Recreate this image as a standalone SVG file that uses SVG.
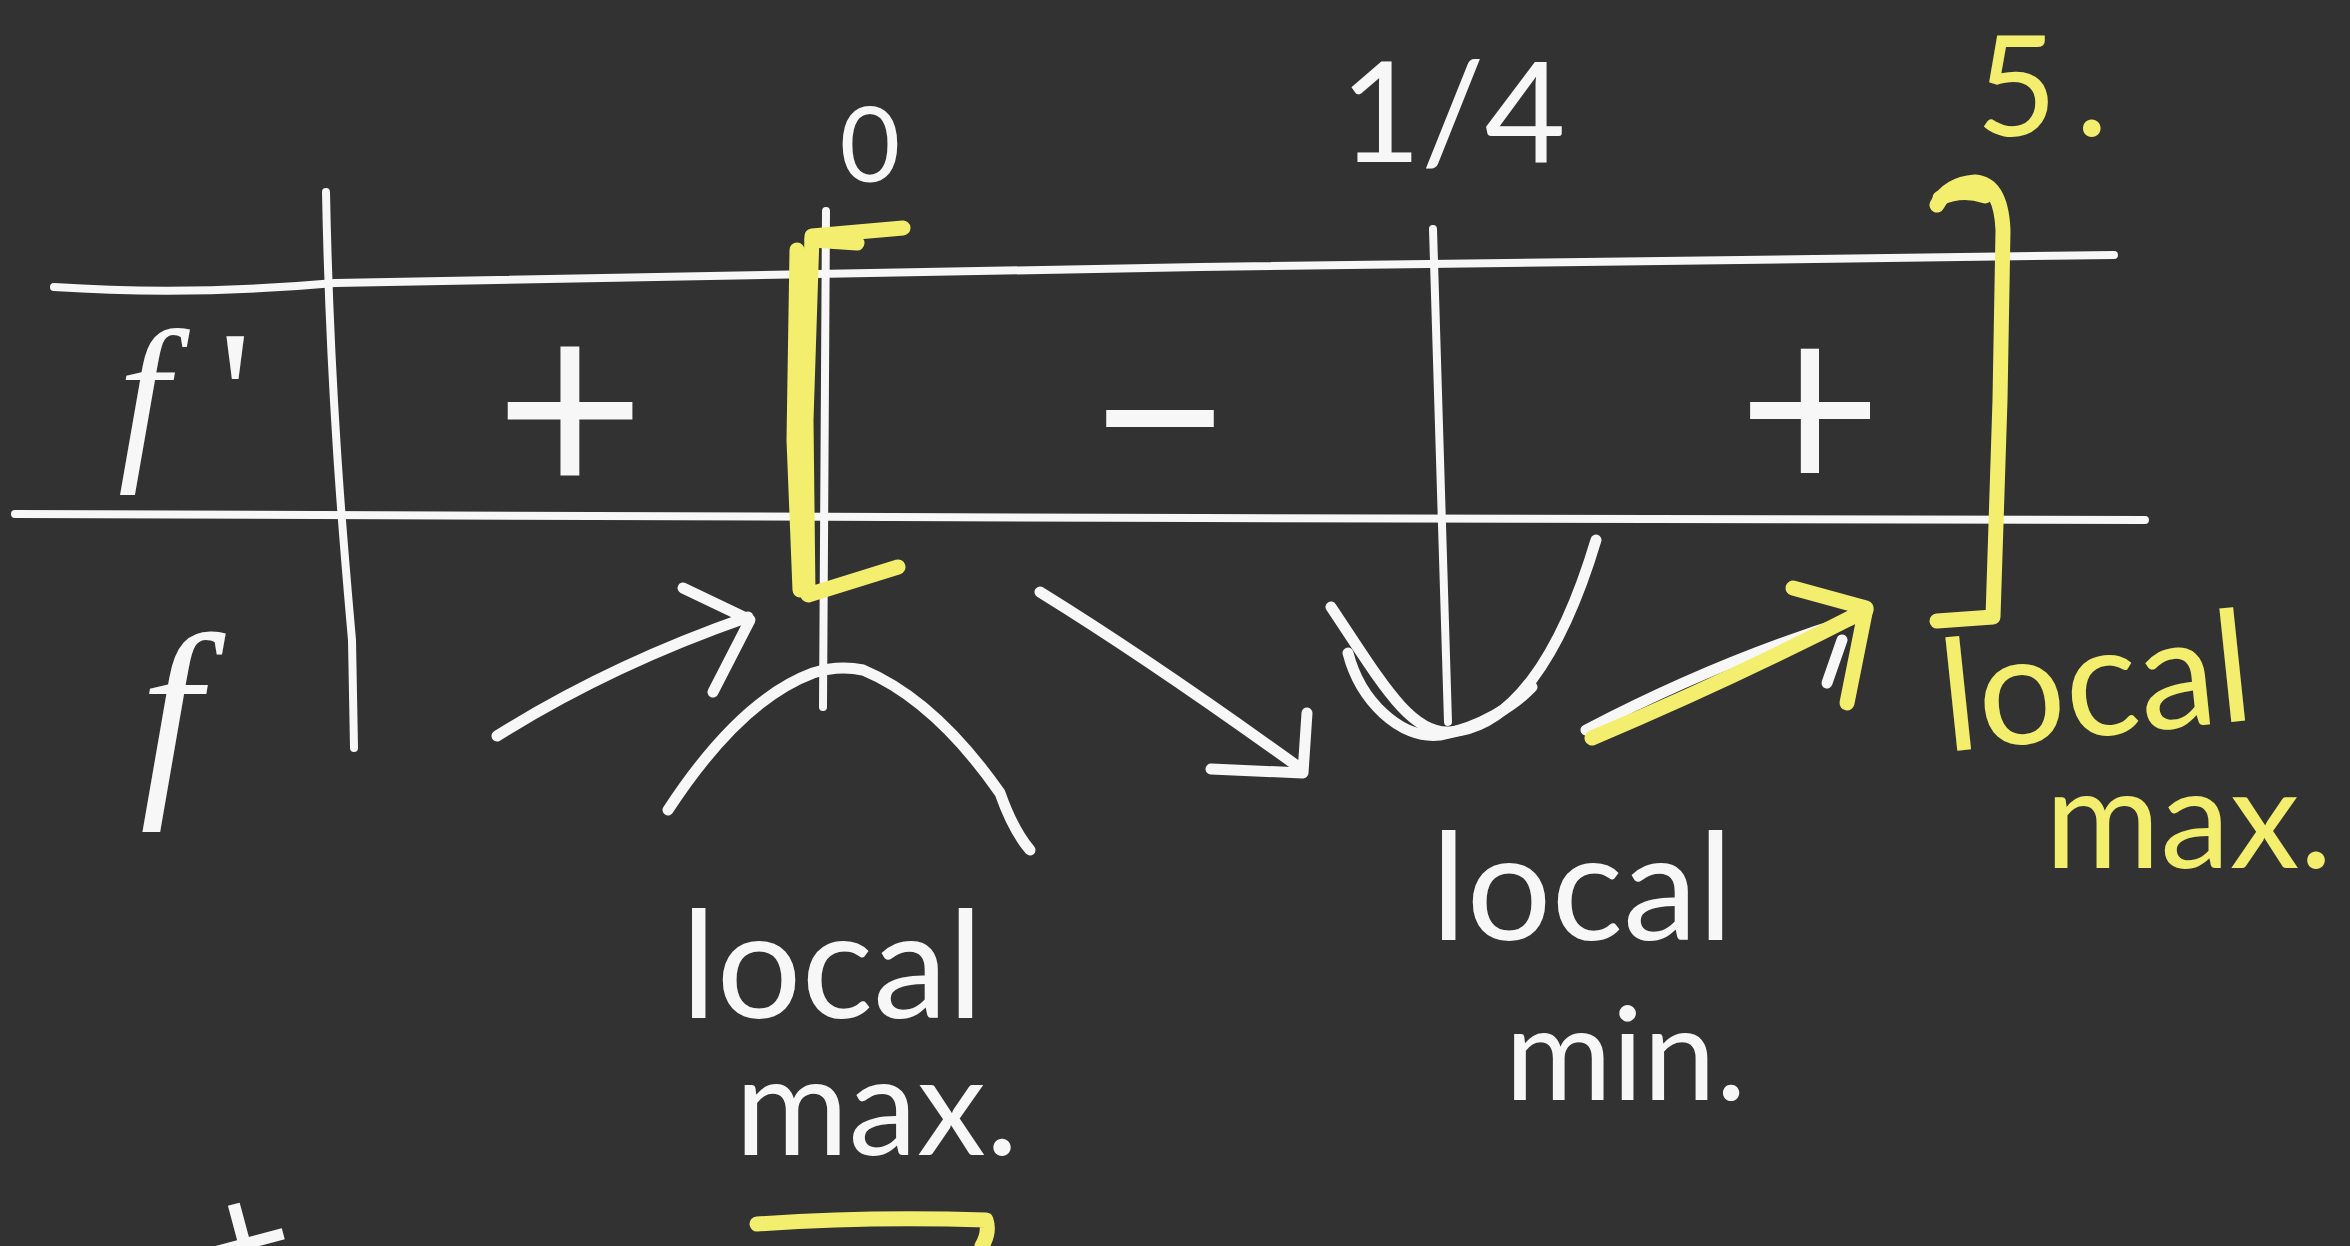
<svg xmlns="http://www.w3.org/2000/svg" width="2350" height="1246" viewBox="0 0 2350 1246">
<style>
.w{fill:none;stroke:#f7f7f7;stroke-linecap:round;stroke-linejoin:round;stroke-width:11}
.wt{fill:none;stroke:#f7f7f7;stroke-linecap:round;stroke-linejoin:round;stroke-width:8}
.y{fill:none;stroke:#f3ee6e;stroke-linecap:round;stroke-linejoin:round;stroke-width:15}
.tw{fill:#f7f7f7;font-family:Lato,"Liberation Sans",sans-serif}
.ty{fill:#f3ee6e;font-family:Lato,"Liberation Sans",sans-serif}
.fi{fill:#f7f7f7;font-family:"Liberation Serif",serif;font-style:italic}
</style>
<rect width="2350" height="1246" fill="#323232"/>

<g id="table">
<path class="wt" d="M 54 287 Q 190 296 335 283 L 1200 267 L 2114 255"/>
<path class="wt" d="M 15 514 L 1200 518 L 2145 520"/>
<path class="wt" d="M 326 192 C 330 400 345 560 352 640 L 354 748"/>
<path class="wt" d="M 826 211 L 823 707"/>
<path class="wt" d="M 1433 229 L 1448 722"/>
</g>

<g id="labels-top">
<text class="tw" x="870" y="182" font-size="105" text-anchor="middle">0</text>
<text class="tw" x="1340" y="162" font-size="140">1/4</text>
<text class="ty" x="1976" y="136" font-size="140" letter-spacing="18">5.</text>
</g>

<g id="row-labels">
<text class="fi" x="118" y="456" font-size="183">f<tspan dx="50" font-style="normal">'</tspan></text>
<text class="fi" x="140" y="785" font-size="218">f</text>
</g>

<g id="signs">
<text class="tw" x="570" y="498" font-size="260" text-anchor="middle">+</text>
<text class="tw" x="1160" y="503" font-size="250" text-anchor="middle">−</text>
<text class="tw" x="1810" y="495" font-size="250" text-anchor="middle">+</text>
</g>

<g id="bracket-left">
<path class="y" d="M 903 228 L 812 236 L 806 420 L 808 595 L 898 567"/>
<path class="y" d="M 797 250 L 794 440 L 800 590"/>
<path class="y" d="M 857 243 L 812 240" stroke-width="10"/>
</g>

<g id="bracket-right">
<path class="y" d="M 1937 205 Q 1948 184 1975 182 Q 2001 184 2003 230 L 2000 400 L 1993 617 L 1937 621"/>
<path class="y" d="M 1940 198 Q 1962 188 1985 196" stroke-width="7"/>
</g>

<g id="curve-max">
<path class="w" d="M 668 810 Q 740 700 813 673 Q 838 665 863 670 Q 935 700 1000 793 Q 1013 830 1030 850"/>
</g>

<g id="curve-min">
<path class="w" d="M 1331 607 C 1380 680 1410 735 1450 732 C 1510 728 1560 660 1596 540"/>
<path class="w" d="M 1348 653 C 1360 700 1400 740 1440 735 C 1480 728 1515 705 1532 687" stroke-width="8"/>
</g>

<g id="connectors">
<path class="w" d="M 497 736 Q 610 665 748 617"/>
<path class="w" d="M 683 588 L 750 620 L 713 692"/>
<path class="w" d="M 1040 592 Q 1150 660 1300 768"/>
<path class="w" d="M 1211 769 L 1303 773 L 1307 713"/>
<path class="w" d="M 1586 730 Q 1720 660 1851 620"/>
<path class="w" d="M 1827 683 L 1842 640"/>
<path class="y" d="M 1592 738 Q 1730 680 1866 610"/>
<path class="y" d="M 1793 588 L 1866 608 L 1847 703"/>
</g>

<g id="label-local-max">
<text class="tw" x="681" y="1018" font-size="150">local</text>
<text class="tw" x="735" y="1155" font-size="138">max.</text>
<path class="y" d="M 757 1224 Q 870 1216 986 1220 Q 990 1232 982 1246" stroke-width="18"/>
</g>

<g id="label-local-min">
<text class="tw" x="1431" y="940" font-size="150">local</text>
<text class="tw" x="1505" y="1100" font-size="130">min.</text>
</g>

<g id="label-local-max-end">
<text class="ty" x="1946" y="752" font-size="155" transform="rotate(-6 1946 752)">local</text>
<text class="ty" x="2045" y="868" font-size="140">max.</text>
</g>

<g id="partial-bottom">
<text class="tw" x="245" y="1300" font-size="167" text-anchor="middle" transform="rotate(-15 245 1246)">+</text>
</g>
</svg>
